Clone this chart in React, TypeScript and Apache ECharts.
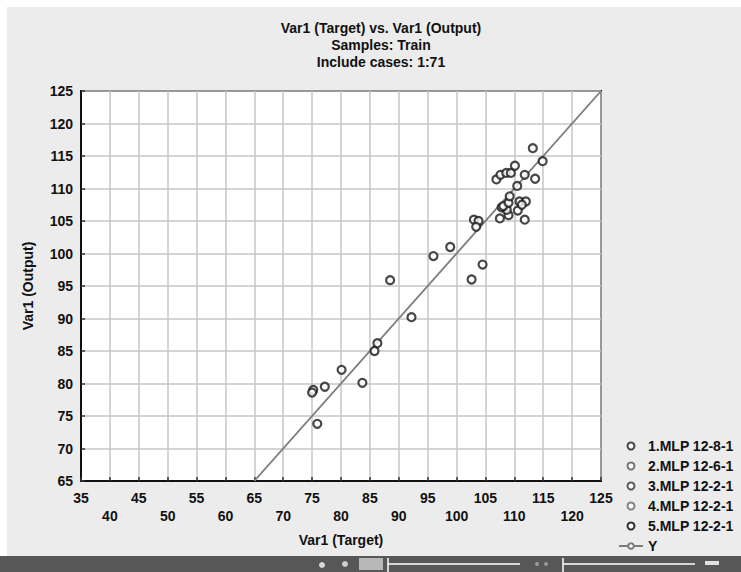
import React, { useEffect, useRef } from "react";
import * as echarts from "echarts";

const titleLines = ["Var1 (Target) vs. Var1 (Output)", "Samples: Train", "Include cases: 1:71"];
const xName = "Var1 (Target)";
const yName = "Var1 (Output)";
const seriesNames = ["1.MLP 12-8-1", "2.MLP 12-6-1", "3.MLP 12-2-1", "4.MLP 12-2-1", "5.MLP 12-2-1"];
const seriesColors = ["#1a1a1a", "#555555", "#333333", "#666666", "#000000"];
const lineName = "Y";

// target, output pairs
const mlp1Points: number[][] = [
  [75.2, 79.0], [75.0, 78.6], [75.9, 73.8], [77.2, 79.5], [80.1, 82.1],
  [83.7, 80.1], [85.8, 85.0], [86.3, 86.2], [92.2, 90.2], [88.5, 95.9],
  [96.0, 99.6], [98.9, 101.0], [102.6, 96.0], [104.5, 98.3], [103.0, 105.2],
  [103.8, 105.0], [103.4, 104.1], [107.5, 105.4], [109.0, 105.9], [110.6, 106.6],
  [111.8, 105.2], [108.7, 106.7], [107.8, 107.1], [108.1, 107.3], [109.0, 107.8],
  [109.2, 108.8], [110.9, 108.0], [112.0, 108.0], [111.3, 107.5], [110.5, 110.4],
  [106.9, 111.4], [107.6, 112.1], [108.6, 112.4], [109.4, 112.4], [110.1, 113.5],
  [111.8, 112.1], [113.6, 111.5], [113.2, 116.2], [114.9, 114.2],
];
const mlp2Points: number[][] = [];
const mlp3Points: number[][] = [];
const mlp4Points: number[][] = [];
const mlp5Points: number[][] = [];
const identityLine: number[][] = [[65, 65], [125, 125]];

const xMin = 35, xMax = 125, yMin = 65, yMax = 125, step = 5;

const FONT = "'Liberation Sans', Arial, sans-serif";

export default function App() {
  const ref = useRef<HTMLDivElement>(null);
  useEffect(() => {
    if (!ref.current) return;
    const chart = echarts.init(ref.current, undefined, { renderer: "svg" });
    const allPoints = [mlp1Points, mlp2Points, mlp3Points, mlp4Points, mlp5Points];
    const scatterSeries = seriesNames.map((name, i) => ({
      name,
      type: "scatter",
      data: allPoints[i],
      symbol: "circle",
      symbolSize: 8,
      z: 3,
      itemStyle: { color: "#ffffff", borderColor: seriesColors[i], borderWidth: 2.2 },
    }));
    const option: any = {
      animation: false,
      backgroundColor: "#ececec",
      textStyle: { fontFamily: FONT },
      graphic: [
        { type: "rect", silent: true, z: -10, shape: { x: 0, y: 0, width: 741, height: 7 }, style: { fill: "#ffffff" } },
        { type: "rect", silent: true, z: -10, shape: { x: 0, y: 0, width: 7, height: 572 }, style: { fill: "#ffffff" } },
        {
          type: "text",
          x: 381,
          y: 19,
          style: {
            text: titleLines.join("\n"),
            textAlign: "center",
            textVerticalAlign: "top",
            fontFamily: FONT,
            fontSize: 14,
            fontWeight: "bold",
            lineHeight: 17,
            fill: "#111111",
          },
        },
        { type: "rect", silent: true, shape: { x: 0, y: 556, width: 741, height: 16 }, style: { fill: "#575757" } },
        { type: "rect", silent: true, shape: { x: 359, y: 558, width: 24, height: 12 }, style: { fill: "#b8b8b8" } },
        { type: "circle", silent: true, shape: { cx: 345, cy: 564, r: 3 }, style: { fill: "#cfcfcf" } },
        { type: "circle", silent: true, shape: { cx: 322, cy: 565, r: 3 }, style: { fill: "#d8d8d8" } },
        { type: "line", silent: true, shape: { x1: 388, y1: 564, x2: 520, y2: 564 }, style: { stroke: "#ffffff", lineWidth: 1.5 } },
        { type: "line", silent: true, shape: { x1: 388, y1: 558, x2: 388, y2: 572 }, style: { stroke: "#ffffff", lineWidth: 1.5 } },
        { type: "circle", silent: true, shape: { cx: 537, cy: 564, r: 2 }, style: { fill: "#9a9a9a" } },
        { type: "circle", silent: true, shape: { cx: 546, cy: 564, r: 2 }, style: { fill: "#9a9a9a" } },
        { type: "line", silent: true, shape: { x1: 563, y1: 564, x2: 695, y2: 564 }, style: { stroke: "#ffffff", lineWidth: 1.5 } },
        { type: "line", silent: true, shape: { x1: 563, y1: 558, x2: 563, y2: 572 }, style: { stroke: "#ffffff", lineWidth: 1.5 } },
        { type: "rect", silent: true, shape: { x: 705, y: 561, width: 14, height: 4 }, style: { fill: "#e0e0e0" } },
      ],
      grid: {
        left: 81,
        right: 140,
        top: 91,
        bottom: 91,
        show: true,
        backgroundColor: "#ffffff",
        borderColor: "#111111",
        borderWidth: 2,
      },
      xAxis: {
        type: "value",
        min: xMin,
        max: xMax,
        interval: step,
        name: xName,
        nameLocation: "middle",
        nameGap: 52,
        nameTextStyle: { fontFamily: FONT, fontSize: 14, fontWeight: "bold", color: "#111111" },
        axisLine: { show: true, lineStyle: { color: "#111111", width: 2 } },
        axisTick: { show: true, inside: true, length: 4, lineStyle: { color: "#333333", width: 1.5 } },
        splitLine: { show: true, lineStyle: { color: "#c6c6c6", width: 1.5 } },
        axisLabel: {
          margin: 8,
          fontFamily: FONT,
          fontSize: 14,
          fontWeight: "bold",
          color: "#111111",
          lineHeight: 18,
          showMinLabel: true,
          showMaxLabel: true,
          formatter: (v: number) => (Math.round(v / step) % 2 === 1 ? String(v) : "\n" + v),
        },
      },
      yAxis: {
        type: "value",
        min: yMin,
        max: yMax,
        interval: step,
        name: yName,
        nameLocation: "middle",
        nameGap: 46,
        nameTextStyle: { fontFamily: FONT, fontSize: 14, fontWeight: "bold", color: "#111111" },
        axisLine: { show: true, lineStyle: { color: "#111111", width: 2 } },
        axisTick: { show: true, inside: true, length: 4, lineStyle: { color: "#333333", width: 1.5 } },
        splitLine: { show: true, lineStyle: { color: "#c6c6c6", width: 1.5 } },
        axisLabel: {
          margin: 8,
          fontFamily: FONT,
          fontSize: 14,
          fontWeight: "bold",
          color: "#111111",
        },
      },
      legend: {
        orient: "vertical",
        left: 613,
        top: 434,
        itemWidth: 24,
        itemHeight: 7,
        itemGap: 6,
        data: [...seriesNames, lineName],
        textStyle: { fontFamily: FONT, fontSize: 14, fontWeight: "bold", color: "#111111", lineHeight: 14 },
        selectedMode: false,
      },
      series: [
        {
          name: lineName,
          type: "line",
          data: identityLine,
          symbol: "emptyCircle",
          symbolSize: 7,
          showSymbol: false,
          z: 2,
          itemStyle: { color: "#7c7c7c" },
          lineStyle: { color: "#7c7c7c", width: 1.8 },
        },
        ...scatterSeries,
      ],
    };
    chart.setOption(option);
    return () => chart.dispose();
  }, []);
  return <div ref={ref} style={{ position: "fixed", left: 0, top: 0, width: 741, height: 572 }} />;
}
